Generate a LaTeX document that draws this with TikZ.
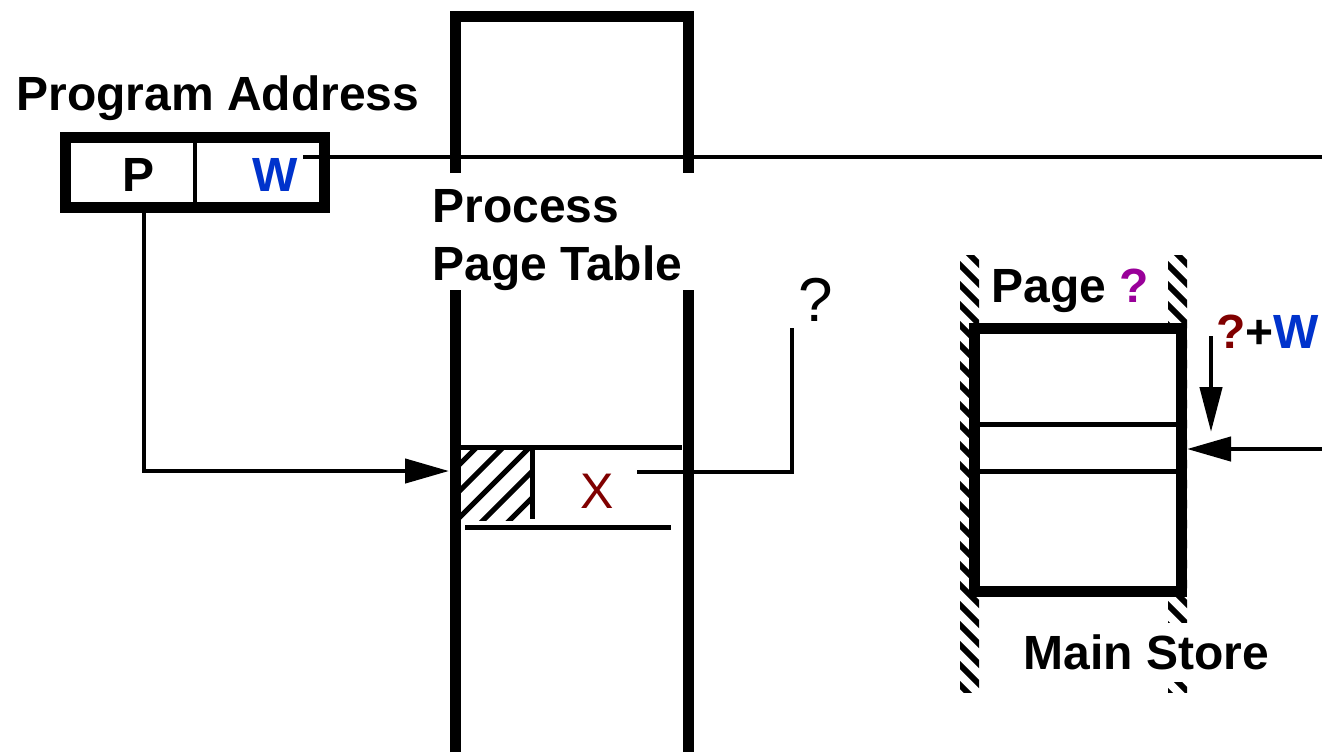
\documentclass[tikz,border=0pt]{standalone}
\usepackage{fontspec}
\setmainfont{Liberation Sans}
\usetikzlibrary{arrows.meta,positioning}
\definecolor{addrblue}{RGB}{0,51,204}
\definecolor{pagepurple}{RGB}{153,0,153}
\definecolor{framered}{RGB}{128,0,0}

\begin{document}
\begin{tikzpicture}[x=0.5pt,y=-0.5pt,font=\fontsize{24}{28}\selectfont\bfseries,
  heavy/.style={line width=5.5pt},
  wire/.style={line width=2.2pt},
  rowline/.style={line width=2.5pt},
  hatchline/.style={line width=2.5pt},
  arrowhd/.style={-{Triangle[length=22pt,width=12pt]}},
  lbl/.style={inner sep=0pt,anchor=base west}]
\useasboundingbox (0,0) rectangle (1322,752);
% program address
\node[lbl] (progaddr) at (16,110) {Program Address};
\draw[heavy] (65.5,137) rectangle (324.5,207);
\draw[wire] (195,137) -- (195,207);
\node[inner sep=0pt,anchor=base] (cellP) at (139,191) {P};
\node[inner sep=0pt,anchor=base,text=addrblue] (cellW) at (275,191) {W};
\coordinate (addrP) at (144,213);
\coordinate (addrW) at (303,157);
\coordinate (offEnd) at (1322,157);
\draw[wire] (addrW) -- (offEnd);
% process page table
\draw[heavy] (455,752) -- (455,290);
\draw[heavy] (455,173) -- (455,16) -- (688,16) -- (688,173);
\draw[heavy] (688,290) -- (688,752);
\node[lbl] (ptlabel) at (432,222) {Process};
\node[lbl] at (ptlabel.base west) [yshift=-29pt,anchor=base west] {Page Table};
\draw[rowline] (461,447) -- (682,447);
\draw[rowline] (532.5,449) -- (532.5,519);
\draw[rowline] (465,527) -- (671,527);
\begin{scope}
  \clip (461,450) rectangle (530,520);
  \foreach \s in {924,950.5,...,1030}{
    \draw[hatchline] (\s-540,540) -- (\s-440,440);
  }
\end{scope}
\node[inner sep=0pt,anchor=base,font=\fontsize{25}{30}\selectfont,text=framered] (xentry) at (597,508) {X};
\coordinate (ptIn) at (449,471);
\draw[wire,arrowhd] (addrP) |- (ptIn);
\coordinate (xout) at (637,472);
\coordinate (frameTop) at (792,328);
\draw[wire] (xout) -| (frameTop);
\node[inner sep=0pt,anchor=base,font=\fontsize{31}{36}\selectfont] (qmark) at (816,321) {?};
% main store
\foreach \xa/\ya/\yb in {960/255/692,1168/255/622,1168/682/692}{
  \begin{scope}
    \clip (\xa,\ya) rectangle (\xa+19,\yb);
    \foreach \k in {-2,...,24}{
      \draw[line width=3pt] (\xa-10,{\ya+20*\k}) -- (\xa+30,{\ya+20*\k+40});
    }
  \end{scope}
}
\draw[heavy,fill=white] (974,328) rectangle (1181.5,591);
\draw[rowline] (979,424) -- (1176,424);
\draw[rowline] (979,471) -- (1176,471);
\node[lbl] (pagelbl) at (991,302) {Page \textcolor{pagepurple}{?}};
\node[lbl] (offlbl) at (1216,348) {\textcolor{framered}{?}+\textcolor{addrblue}{W}};
\node[lbl] (storelbl) at (1023,669) {Main Store};
\coordinate (offTop) at (1211,336);
\coordinate (offTip) at (1211,432);
\draw[wire,-{Triangle[length=22.5pt,width=11pt]}] (offTop) -- (offTip);
\coordinate (storeIn) at (1187,449);
\coordinate (storeFeed) at (1322,449);
\draw[wire,arrowhd] (storeFeed) -- (storeIn);
\end{tikzpicture}
\end{document}
